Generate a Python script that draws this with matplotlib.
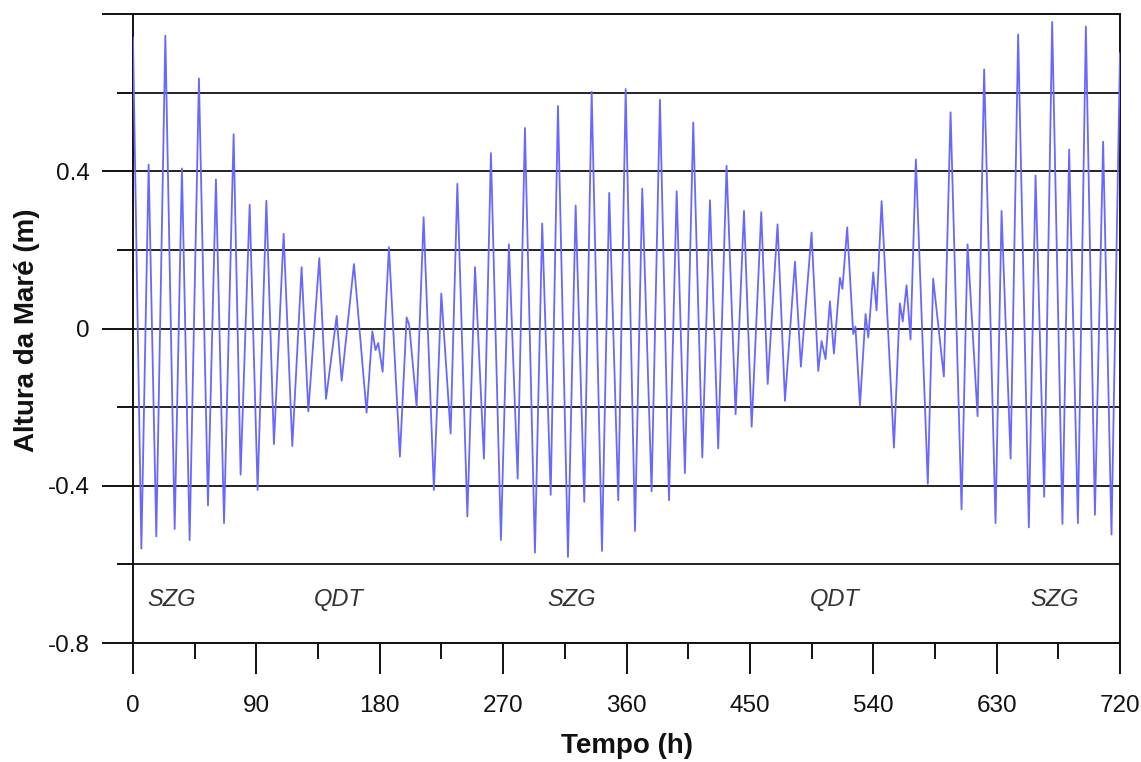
import numpy as np
import matplotlib
matplotlib.use("Agg")
import matplotlib.pyplot as plt
from matplotlib.ticker import FixedLocator

plt.rcParams["font.family"] = ["Liberation Sans", "DejaVu Sans"]

# Sea level turning points (high and low waters) over the 30-day record
tempo_h = [
    0, 6.1, 11.4, 17.0, 23.6, 30.4, 35.7, 41.3, 48.1, 54.7, 60.5, 66.4, 73.4, 78.5,
    85.1, 90.9, 97.3, 102.8, 109.9, 116.2, 123.0, 127.9, 135.9, 140.8, 148.6, 152.2,
    161.2, 170.4, 174.6, 176.9, 178.9, 182.1, 186.7, 194.7, 199.6, 201.5, 206.9, 212.0,
    219.5, 224.9, 231.7, 236.6, 243.9, 249.5, 256.0, 261.1, 268.4, 274.2, 280.6, 285.9,
    293.2, 298.5, 304.7, 310.0, 317.3, 322.9, 329.2, 334.6, 342.1, 347.4, 354.0, 359.4,
    366.2, 371.5, 378.3, 384.4, 391.0, 396.6, 402.6, 408.7, 415.3, 420.9, 426.9, 433.0,
    439.6, 445.7, 451.3, 458.3, 463.0, 470.2, 475.6, 482.9, 487.2, 495.0, 499.9, 502.3,
    505.2, 508.4, 511.3, 515.7, 517.5, 521.0, 525.4, 527.0, 530.3, 534.4, 536.4, 540.0,
    542.4, 546.1, 555.1, 559.4, 561.5, 564.3, 567.2, 571.1, 579.8, 583.7, 586.5, 591.5,
    596.4, 604.4, 608.8, 616.1, 620.9, 629.2, 633.6, 640.2, 645.7, 653.5, 658.4, 664.7,
    670.5, 678.0, 682.9, 689.3, 695.1, 701.7, 707.7, 713.8, 720.0,
]
altura_m = [
    0.74, -0.56, 0.417, -0.529, 0.745, -0.51, 0.407, -0.538, 0.636, -0.45, 0.379, -0.495,
    0.494, -0.372, 0.315, -0.411, 0.325, -0.294, 0.241, -0.299, 0.156, -0.211, 0.179,
    -0.179, 0.032, -0.133, 0.164, -0.214, -0.007, -0.055, -0.037, -0.110, 0.207, -0.326,
    0.028, 0.009, -0.198, 0.283, -0.411, 0.089, -0.267, 0.368, -0.478, 0.156, -0.331,
    0.446, -0.538, 0.214, -0.382, 0.510, -0.570, 0.267, -0.423, 0.566, -0.581, 0.313,
    -0.441, 0.602, -0.566, 0.345, -0.437, 0.609, -0.515, 0.356, -0.414, 0.582, -0.437,
    0.349, -0.368, 0.524, -0.328, 0.326, -0.305, 0.414, -0.218, 0.299, -0.250, 0.296,
    -0.141, 0.265, -0.184, 0.170, -0.097, 0.244, -0.108, -0.032, -0.078, 0.069, -0.064,
    0.129, 0.101, 0.257, -0.014, 0.005, -0.196, 0.037, -0.023, 0.143, 0.046, 0.324,
    -0.303, 0.064, 0.018, 0.110, -0.028, 0.430, -0.395, 0.127, 0.037, -0.122, 0.550,
    -0.460, 0.214, -0.223, 0.659, -0.495, 0.299, -0.331, 0.748, -0.506, 0.389, -0.428,
    0.780, -0.497, 0.455, -0.495, 0.768, -0.474, 0.475, -0.524, 0.70,
]

# Spring (SZG) / neap (QDT) phase labels
fases = ["SZG", "QDT", "SZG", "QDT", "SZG"]
fases_t = [28, 150, 320, 512, 672]

x_ticks = list(range(0, 721, 90))
x_minor = list(range(45, 721, 90))
y_ticks = [-0.8, -0.4, 0.0, 0.4, 0.8]
y_tick_labels = ["-0.8", "-0.4", "0", "0.4", ""]
y_minor = [-0.6, -0.2, 0.2, 0.6]

W, H = 1141, 762
fig = plt.figure(figsize=(W / 100, H / 100), dpi=100)
ax = fig.add_axes([133 / W, 1 - 643 / H, 987 / W, 629 / H])

ax.plot(tempo_h, altura_m, color="#6868ff", lw=1.3, zorder=3)

ax.set_xlim(0, 720)
ax.set_ylim(-0.8, 0.8)
ax.set_xticks(x_ticks)
ax.set_xticklabels([str(v) for v in x_ticks])
ax.xaxis.set_minor_locator(FixedLocator(x_minor))
ax.set_yticks(y_ticks)
ax.set_yticklabels(y_tick_labels)
ax.yaxis.set_minor_locator(FixedLocator(y_minor))

ax.grid(axis="y", which="both", color="#111111", lw=1.3, zorder=1)
ax.set_axisbelow(True)

ax.tick_params(which="major", length=22, width=1.4, labelsize=17.5,
               color="#111111", labelcolor="#111111")
ax.tick_params(axis="x", which="major", pad=15.5)
ax.tick_params(axis="y", which="major", pad=9)
ax.tick_params(which="minor", length=11.5, width=1.4, color="#111111")
for s in ax.spines.values():
    s.set_linewidth(1.4)
    s.set_color("#111111")

for nome, t in zip(fases, fases_t):
    ax.text(t, -0.69, nome, ha="center", va="center", style="italic",
            fontsize=17, color="#333333")

fig.text(27 / W, 1 - 330 / H, "Altura da Maré (m)", rotation=90, ha="center",
         va="center", fontsize=20, fontweight="bold", color="#111111")
fig.text(627 / W, 1 - 746 / H, "Tempo (h)", ha="center", va="center",
         fontsize=20, fontweight="bold", color="#111111")

fig.savefig("out.png", dpi=100)
